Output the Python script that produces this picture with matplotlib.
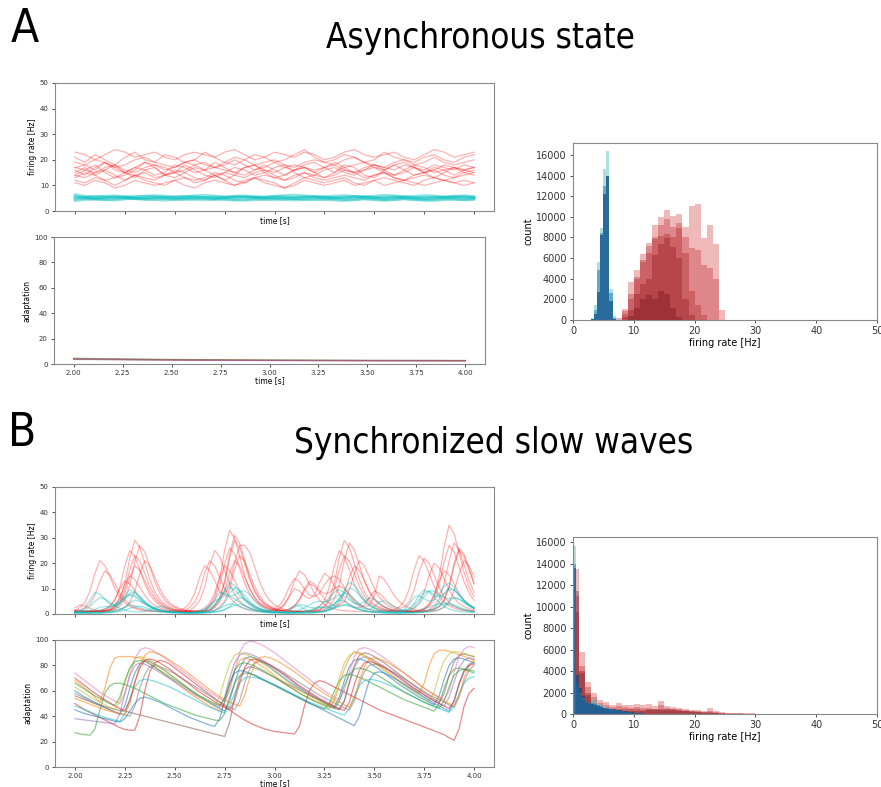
import numpy as np
import matplotlib
matplotlib.use("Agg")
import matplotlib.pyplot as plt
from matplotlib import cm

# ---------------- data ----------------
# asynchronous state: firing rates sampled every 50 ms
t_async = np.linspace(2.0, 4.0, 41)

rate_async_exc = [
    [15,17,14,16,18,15,13,16,17,14,15,18,16,14,13,15,17,16,14,15,17,18,15,13,14,16,17,15,14,16,18,16,14,15,17,15,13,15,17,16,15],
    [21,19,22,20,18,21,23,20,19,22,21,19,20,23,21,19,18,20,22,21,19,20,22,24,21,19,20,22,21,19,20,23,21,20,19,21,22,20,19,21,22],
    [12,11,13,12,10,12,14,12,11,10,12,13,11,12,14,12,10,11,13,12,11,9,11,13,12,11,12,13,11,10,12,13,12,11,10,12,13,12,11,12,11],
    [17,18,16,19,17,15,17,19,18,16,17,19,18,16,17,18,20,18,16,17,19,17,16,18,19,17,15,17,18,19,17,16,18,19,17,16,18,17,16,18,17],
    [14,13,15,16,14,12,14,15,13,14,16,15,13,12,14,15,14,13,15,16,14,12,13,15,14,13,14,16,15,13,14,15,13,12,14,15,16,14,13,14,15],
    [23,22,20,22,24,23,21,22,23,21,20,22,23,22,21,23,24,22,20,21,23,22,21,23,22,20,21,23,24,22,21,22,23,21,20,22,24,23,21,22,23],
    [16,14,17,19,16,15,17,16,14,15,18,17,15,16,19,17,15,14,16,18,16,14,16,17,15,17,19,17,15,16,17,15,14,16,18,17,15,16,17,15,16],
    [11,10,12,11,9,10,12,11,10,11,12,10,9,11,12,11,10,12,13,11,10,9,10,12,11,10,11,12,10,11,12,10,11,12,11,10,11,12,11,10,11],
    [19,18,20,19,17,18,20,21,19,18,17,19,20,18,17,19,21,20,18,19,20,18,17,19,20,19,18,20,21,19,18,17,19,20,18,19,21,19,18,19,20],
    [13,15,14,12,13,15,14,13,12,14,15,13,12,13,15,14,12,11,13,14,13,12,14,15,13,12,13,14,13,12,14,15,13,12,13,14,13,12,13,15,14],
    [17,16,15,17,18,16,15,17,18,17,15,16,18,19,17,16,15,17,18,16,15,17,18,17,16,17,18,16,15,17,18,17,16,18,17,15,16,18,17,16,17],
    [14,16,18,15,13,14,16,19,17,14,13,15,17,16,14,12,14,17,18,15,13,14,16,17,15,13,15,18,17,14,13,16,18,16,14,15,17,16,14,16,17],
]

rate_async_inh = [
    [5.5,5.2,5.0,5.3,5.6,5.4,5.1,5.0,5.3,5.5,5.2,5.0,5.2,5.4,5.6,5.3,5.1,5.2,5.5,5.3,5.0,5.2,5.4,5.6,5.4,5.1,5.0,5.2,5.5,5.4,5.2,5.1,5.3,5.5,5.3,5.1,5.0,5.3,5.6,5.4,5.2],
    [6.5,5.8,5.6,5.9,6.0,5.7,5.5,5.8,6.1,5.9,5.6,5.7,6.0,6.2,5.9,5.6,5.8,6.0,5.7,5.5,5.8,6.1,6.3,6.0,5.7,5.6,5.9,6.1,5.8,5.6,5.9,6.2,6.0,5.7,5.8,6.1,5.9,5.6,5.8,6.0,5.7],
    [4.6,4.8,4.5,4.3,4.6,4.9,4.7,4.4,4.6,4.8,4.5,4.3,4.6,4.8,4.6,4.4,4.2,4.5,4.7,4.5,4.3,4.6,4.8,4.5,4.3,4.6,4.7,4.4,4.5,4.8,4.6,4.3,4.5,4.7,4.4,4.2,4.5,4.7,4.5,4.4,4.6],
    [5.0,5.4,5.8,5.5,5.2,5.4,5.7,5.9,5.6,5.3,5.5,5.8,5.6,5.3,5.1,5.4,5.7,5.5,5.2,5.4,5.8,5.6,5.3,5.5,5.7,5.4,5.2,5.5,5.8,5.6,5.3,5.5,5.7,5.4,5.1,5.4,5.6,5.3,5.5,5.7,5.4],
    [5.8,5.3,4.9,5.1,5.4,5.2,4.8,5.0,5.3,5.1,4.9,5.2,5.5,5.2,4.9,5.1,5.4,5.6,5.2,5.0,5.3,5.1,4.8,5.0,5.3,5.5,5.2,4.9,5.1,5.4,5.2,4.9,5.1,5.3,5.0,4.8,5.1,5.4,5.2,5.0,5.1],
    [4.0,4.4,4.7,4.5,4.2,4.6,4.9,4.7,4.4,4.1,4.5,4.8,4.6,4.3,4.5,4.7,4.4,4.1,4.3,4.6,4.8,4.5,4.2,4.4,4.7,4.5,4.2,4.0,4.3,4.6,4.4,4.1,4.4,4.7,4.5,4.2,4.0,4.4,4.6,4.3,4.5],
]

t_adapt_async = [2.0, 2.5, 3.0, 3.5, 4.0]
adapt_async = [
    [4.5, 3.6, 3.1, 2.9, 2.8],
    [4.2, 3.4, 3.0, 2.8, 2.7],
    [4.0, 3.3, 2.9, 2.7, 2.6],
    [3.8, 3.1, 2.8, 2.6, 2.5],
    [3.6, 3.0, 2.7, 2.5, 2.4],
]

# slow waves: sampled every 25 ms
t_slow = np.linspace(2.0, 4.0, 81)

rate_slow_exc = [
    [1.2,1.2,1.1,1.1,1.2,1.3,1.6,2.9,5.3,10.6,19,25,22.6,17.3,11.8,7.7,5.1,3.4,2.4,1.7,
     1.3,1.1,1.0,1.0,1.0,1.0,1.1,1.5,3.2,6,12.2,22,29,26.2,20,13.6,8.8,5.8,3.8,2.7,
     1.8,1.4,1.2,1.1,1.0,1.0,1.0,1.1,1.3,1.8,2.8,5,9.8,17.5,23,20.8,16,10.9,7.2,4.7,
     3.2,2.3,1.7,1.4,1.2,1.1,1.0,1.0,1.1,1.3,1.8,3.1,5.7,11.4,20.5,27,24.4,18.7,12.7,8.3,5.4],
    [1.0,1.0,1.0,1.1,1.1,1.2,1.3,1.6,2.4,4.2,8.2,14.5,19,17.2,13.2,9.1,6,4.1,2.8,2.1,
     1.5,1.2,1.0,1.0,1.0,1.1,1.3,3.6,6.8,13.8,25,33,29.8,22.8,15.4,10,6.4,4.2,2.9,2.0,
     1.5,1.2,1.1,1.0,1.0,1.0,1.0,1.0,1.1,1.3,1.8,3.2,5.9,11.8,21,28,25.3,19.4,13.2,8.6,
     5.6,3.7,2.6,1.8,1.4,1.2,1.1,1.0,1.1,1.3,1.9,3.7,7.1,14.6,26.5,35,31.6,24.1,16.3,10.5,6.8],
    [1.5,2.6,4.6,9,16,21,19,14.6,10,6.6,4.4,3,2.2,1.6,1.3,1.1,1.0,1.0,1.0,1.0,
     1.0,1.0,1.1,1.4,2.9,5.3,10.6,19,25,22.6,17.3,11.8,7.7,5.1,3.4,2.4,1.7,1.3,1.1,1.0,
     1.2,2.3,3.9,7.4,13,17,15.4,11.9,8.2,5.5,3.7,2.6,2.0,1.5,1.3,1.2,1.1,1.0,1.0,1.0,
     1.0,1.0,1.0,1.1,1.5,2.8,5,9.8,17.5,23,20.8,16,10.9,7.2,4.7,3.2,2.3,1.7,1.4,1.2,1.1],
    [0.8,0.8,0.9,0.9,1.0,1.0,1.1,1.3,1.8,3.1,5.7,11.4,20.5,27,24.4,18.7,12.7,8.3,5.4,3.6,
     2.6,1.8,1.4,1.2,1.0,1.0,1.0,1.1,1.5,2.8,5,9.8,17.5,23,20.8,16,10.9,7.2,4.7,3.2,
     2.3,1.7,1.3,1.1,1.0,1.0,1.0,1.0,1.0,1.1,1.3,1.6,2.4,4.2,8.2,14.5,19,17.2,13.2,9.1,
     6,4.1,2.8,2.1,1.5,1.3,1.1,1.0,1.0,1.0,1.1,1.3,1.7,2.9,5.3,10.6,19,25,22.6,17.3,11.8],
    [1.3,1.2,1.1,1.1,1.0,1.0,1.2,2.1,3.5,6.6,11.5,15,13.6,10.5,7.3,4.9,3.4,2.4,1.8,1.4,
     1.2,1.1,1.0,1.0,1.0,1.0,1.1,1.4,2.6,4.6,9,16,21,19,14.6,10,6.6,4.4,3,2.2,
     1.6,1.3,1.5,2,3.2,5.8,10,13,11.8,9.2,8,8.5,10,11,10,7.8,5.5,3.8,2.8,3.5,
     7,15,13.6,10.5,7.3,4.9,3.4,2.4,1.8,1.5,2.3,3.9,7.4,13,17,15.4,11.9,8.2,5.5,3.7,2.6],
    [1.1,1.1,1.0,1.0,1.0,1.1,1.2,1.6,3.2,6,12.2,22,29,26.2,20,13.6,8.8,5.8,3.8,2.7,
     1.9,1.5,2.4,4.2,8.2,14.5,19,17.2,13.2,9.1,7.5,12,20,27,27,24.4,18.7,12.7,8.3,5.4,
     3.6,2.6,1.8,1.4,1.2,1.0,1.0,1.0,1.1,1.5,3.2,6,12.2,22,29,26.2,20,13.6,8.8,5.8,
     3.8,2.7,1.9,1.5,1.2,1.1,1.0,1.0,1.0,1.1,1.3,1.8,3.2,5.9,11.8,21,28,25.3,19.4,13.2,8.6],
    [2.5,3.5,3.2,2.2,1.5,1.4,2,3.2,5.8,10,13,11.8,9.2,6.4,4.4,3,2.2,1.7,1.4,1.2,
     1.1,1.0,1.0,1.0,1.1,1.4,2.4,4.2,8.2,14.5,19,17.2,13.2,9.1,6,4.1,2.8,2.1,1.5,1.3,
     2.1,3.4,6.2,10.8,14,12.7,9.8,7.5,6.8,8,11.5,14,15,13.6,10.5,7.3,4.9,3.4,2.4,1.8,
     1.4,1.2,1.1,1.0,1.0,1.0,1.1,1.4,2.5,4.4,8.6,15.2,20,18.1,13.9,9.5,6.3,4.2,2.9,2.1,1.6],
    [0.9,0.9,0.9,1.0,1.0,1.0,1.0,1.1,1.3,1.7,2.6,4.6,9,16,21,19,14.6,10,6.6,4.4,
     3,2.2,1.6,1.3,1.1,1.0,1.1,1.6,3.4,6.4,13,23.5,31,28,21.4,14.5,9.4,6.1,4,2.8,
     2,1.5,1.4,1.9,3,5.4,9.2,12,10.9,8.5,6,4.2,3.2,3.5,5,9.5,16,21,19,14.6,
     10,6.6,4.4,3,2.2,1.6,1.3,1.1,1.0,1.0,1.0,1.1,1.3,1.7,2.6,4.6,9,16,21,19,14.6],
    [1.5,1.6,2.3,3.9,7.4,13,17,15.4,11.9,8.2,5.5,3.7,2.6,2,1.5,1.3,1.2,1.1,1.0,1.0,
     1.0,1.0,1.3,2.6,4.6,9,16,21,19,14.6,10,6.6,4.4,3,2.2,1.6,1.3,1.1,1.0,1.0,
     1.0,1.7,3.6,6.8,10,9.1,7.1,6,7.5,12.2,16,14.5,11.2,7.8,5.2,3.6,2.6,2.5,3.5,6.5,
     9,8.2,6.3,4.3,3,2.2,2.7,4.8,9.4,16.8,22,19.9,15.3,10.5,6.9,4.6,3.1,2.3,1.7,1.4,1.2],
    [1.0,1.0,1.0,1.0,1.1,1.1,1.2,1.5,2.8,5,9.8,17.5,23,20.8,16,10.9,7.2,4.7,3.2,2.3,
     1.7,1.3,1.1,1.0,1.0,1.1,1.4,3,5.5,11,19.8,26,23.5,18,12.2,8,5.2,3.5,2.5,1.8,
     1.4,1.2,1.0,1.0,1.0,1.0,1.1,1.2,1.6,2.9,5.3,10.6,19,25,22.6,17.3,11.8,7.7,5.1,3.4,
     2.4,1.7,1.4,1.2,1.0,1.0,1.0,1.0,1.1,1.1,1.2,1.4,1.8,3,5.5,11,19.8,26,23.5,18,12.2],
]

rate_slow_inh = [
    [0.6,0.6,0.5,0.5,0.5,0.6,0.8,1.2,2.1,4.1,7.3,9.5,8.6,6.6,4.6,3.0,2.0,1.4,1.0,0.8,
     0.7,0.6,0.5,0.5,0.5,0.5,0.6,0.8,1.3,2.3,4.5,8,10.5,9.5,7.3,5,3.3,2.2,1.5,1.1,
     0.9,0.7,0.6,0.5,0.5,0.5,0.5,0.5,0.6,0.8,1.1,1.9,3.7,6.5,8.5,7.7,5.9,4.1,2.7,1.9,
     1.3,1.0,0.8,0.7,0.6,0.5,0.5,0.5,0.5,0.6,0.8,1.3,2.3,4.5,8,10.5,9.5,7.3,5,3.3,2.2],
    [0.8,1.0,1.6,2.9,5,6.5,5.9,4.6,3.2,2.2,1.5,1.1,0.9,0.8,1.0,1.6,2.5,3.0,2.6,1.8,
     1.1,0.8,0.6,0.5,0.5,0.6,0.8,1.5,2.7,5.3,9.5,12.5,11.3,8.7,5.9,3.9,2.5,1.7,1.2,0.9,
     0.7,0.6,0.5,0.5,0.5,0.5,0.5,0.5,0.6,0.7,0.9,1.5,2.7,5.3,9.5,12.5,11.3,8.7,5.9,3.9,
     2.5,1.7,1.2,0.9,0.7,0.8,1.2,2.1,4.1,7.3,9.5,8.6,6.6,4.6,3.0,2.0,1.4,1.0,0.8,0.7,0.6],
    [0.5,0.5,0.5,0.5,0.5,0.5,0.6,0.7,0.9,1.4,2.5,4.3,5.5,5,3.9,2.8,1.9,1.4,1.0,0.8,
     0.7,0.6,0.5,0.5,0.5,0.5,0.5,0.6,0.8,1.0,1.6,2.9,5,6.5,5.9,4.6,3.2,2.2,1.5,1.1,
     0.9,0.7,0.8,1.7,3.5,3.2,1.9,1.0,0.8,0.9,1.4,2.5,4.3,5.5,5,3.9,2.8,1.9,1.4,1.0,
     0.8,0.7,0.6,0.5,0.5,0.5,0.5,0.5,0.5,0.6,0.7,0.8,1.0,1.6,2.9,5,6.5,5.9,4.6,3.2,2.2],
    [0.8,1.2,2.5,5.5,8.5,7.8,5.8,4.0,3.5,4.5,6.5,8.2,8.5,7.0,5.2,3.6,2.4,1.6,1.1,0.8,
     0.7,0.6,0.5,0.5,0.6,0.8,1.4,2.8,5.5,8.5,8.0,7.0,7.5,8.8,9.2,7.6,5.4,3.5,2.2,1.4,
     1.0,0.8,0.7,0.6,0.6,0.7,0.9,1.3,1.9,2.5,2.8,3.0,3.8,5.8,8.4,10.2,9.5,7.4,5.2,3.4,
     2.2,1.5,1.1,0.9,0.8,1.0,1.8,3.8,6.6,7.2,6.0,5.0,5.6,8.0,11.0,12.2,10.5,7.8,5.2,3.4,2.2],
    [0.4,0.4,0.4,0.4,0.5,0.5,0.6,0.8,1.2,1.9,2.8,3.5,3.2,2.5,1.9,1.3,1.0,0.8,0.6,0.5,
     0.4,0.4,0.4,0.4,0.4,0.5,0.6,0.9,1.4,2.2,3.2,4.0,3.7,2.9,2.1,1.5,1.0,0.8,0.6,0.5,
     0.4,0.4,0.4,0.4,0.5,0.6,0.9,1.5,2.1,2.6,2.4,2.3,2.6,3.1,3.8,3.4,2.6,1.8,1.2,0.9,
     0.7,0.6,0.5,0.4,0.4,0.4,0.5,0.6,0.9,1.4,2.1,2.8,3.4,4.0,4.4,3.9,3.0,2.2,1.5,1.0,0.8],
    [0.6,0.6,0.6,0.7,0.9,1.3,2.0,2.9,3.8,5.0,6.6,7.4,6.8,5.4,4.0,2.9,2.0,1.4,1.0,0.8,
     0.6,0.6,0.6,0.6,0.7,0.9,1.4,2.3,3.9,6.2,8.8,10.5,9.6,7.5,5.3,3.6,2.4,1.6,1.1,0.8,
     0.7,0.6,0.8,1.4,2.6,3.8,3.4,2.6,2.4,3.0,4.4,6.5,8.6,9.6,8.4,6.3,4.4,3.0,2.0,1.8,
     2.8,4.8,5.2,4.0,2.8,1.9,1.5,1.9,3.4,5.6,8.4,9.0,7.6,6.8,7.8,9.8,9.4,7.4,5.4,3.8,2.6],
    [0.3,0.3,0.3,0.3,0.3,0.3,0.4,0.5,0.7,1.0,1.5,2.2,2.9,3.1,2.6,2.0,1.5,1.1,0.8,0.6,
     0.5,0.4,0.3,0.3,0.3,0.3,0.4,0.5,0.8,1.2,1.8,2.6,3.4,3.8,3.2,2.4,1.7,1.2,0.8,0.6,
     0.5,0.4,0.3,0.3,0.3,0.3,0.3,0.4,0.5,0.7,1.0,1.5,2.2,3.0,3.5,3.1,2.4,1.7,1.2,0.8,
     0.6,0.5,0.4,0.3,0.3,0.3,0.3,0.4,0.5,0.7,1.0,1.5,2.2,3.1,3.8,4.0,3.6,2.8,2.0,1.4,1.0],
    [1.0,1.0,1.1,1.3,1.8,2.6,3.0,2.8,3.0,4.2,6.0,7.8,7.4,6.0,4.4,3.1,2.2,1.5,1.1,0.8,
     0.7,0.6,0.6,0.6,0.8,1.2,2.0,3.4,5.0,6.4,7.2,7.0,6.0,4.6,3.3,2.3,1.6,1.1,0.8,0.7,
     0.6,0.6,0.6,0.7,1.0,1.6,2.4,3.6,4.6,5.0,4.8,5.2,6.4,7.6,7.0,5.6,4.2,3.8,4.8,6.2,
     5.8,4.4,3.0,2.0,1.4,1.1,1.0,1.3,2.2,4.0,6.8,9.2,9.0,7.6,6.4,6.0,6.4,5.8,4.6,3.3,2.3],
]

adapt_slow = [
    [60,57.5,55,53,51,49,47,45,43,41.5, 48,62,74,81,84,
     83,81,78.5,76,73,70,67,64,61,58,55.5,53,50.5,48,46,44, 52,66,78,85,87,
     86,84,81.5,79,76,73,70,67,64.5,62,59.5,57,55,53,51,49,47.5, 55,68,79,84,85,
     84,82,79.5,77,74,71,68,65,62.5,60,57.5,55,53,51,49, 56,69,80,85,86, 85,83.5,82],
    [68,65,62,59,55,51, 62,78,86,87,87,87,86.5,86,
     84,81.5,79,76,73,70,67,64,61,58,55.5,53,50.5,48,46,44, 50,63,76,84,
     86,85,83,80.5,78,75,72,69,66,63.5,61,58.5,56,54,52,50,48,46, 52,65,77,86,91,
     90,88,85.5,83,80,77,74,71,68,65.5,63,60.5,58, 66,80,89,92,92, 91,90,88.5,87,85.5,84],
    [27,26,25.5,25, 30,45,58,64,66,66,
     65,63.5,62,60,58,56,54,52,50,48.5,47,45.5,44,42.5,41,40,39,38,37,36.5, 42,55,66,72,74,
     73.5,72,70,68,66,64,62,60,58,56,54,52,50,48.5,47,45.5, 50,60,68,72,73,
     72,70.5,69,67,65,63,61,59,57,55,53,51.5,50,48.5,47,45.5,44, 50,62,72,77,78, 77,75.5,74],
    [50,47.5,45,43,41,39,37,35,33,31,29.5, 29,29, 40,60,75,82,84,
     83,81,78,75,72,69,66,63,60,57,54,51,48,45,42,39.5,37,35,33,31.5,30,29,28,27.5,27,26.5,26,
     32,48,60,66,68,
     67,65,63,61,59,57,55,53,51,49,47,45,43.5,42,40.5,39,37.5,36,34.5,33,31.5,30,28.5,27,25.5,23,21,
     30,48,58,62],
    [38,37.5,37,36.5,36,35.5,35,34.5,34, 42,58,72,80,82,
     81,79,77,74.5,72,69.5,67,64.5,62,59.5,57,55,53,51,49,47, 55,70,82,88,90,
     89,87.5,85.5,83,80.5,78,75,72,69,66,63,60.5,58,55.5,53,51,49,47,45.5, 52,66,78,85,87,
     86,84,81.5,79,76,73,70,67,64,61.5,59,56.5,54,52,50,48, 55,67,78,84,86, 85],
    [56,54.5,53,51.5,50,49,47.5,46.5,45.5,44.5, 44,43,
     42,41,40,39,38,37,36,35,34,33,32,31,30,29,28,27,26,25,24, 35,55,70,77,79,
     78,76.5,74.5,72.5,70.5,68.5,66.5,64.5,62.5,60.5,58.5,56.5,54.5,52.5,50.5,48.5,46.5,45, 52,67,80,88,90,
     89,87,84.5,82,79,76,73,70,67,64,61,58.5,56,53.5,51, 58,72,83,88,89, 88,87],
    [74,71,68,65,62,59,56.5,54,52,50, 58,73,85,92,94,
     93,91,88.5,86,83,80,77,74,71,68,65,62,59,56.5,54,52, 60,76,90,97,99,
     98.5,97,95,92.5,90,87,84,81,78,75,72,69,66,63,60,57.5,55,53, 60,75,87,93,94,
     93,91,88.5,86,83,80,77,74,71,68,65,62,59.5,57,55,53, 60,75,87,93,95, 94],
    [58,56,54,52,50,48,46.5,45,43.5,42,41,40, 48,62,73,79,80,
     79,77.5,75.5,73.5,71,68.5,66,63.5,61,58.5,56,53.5,51,49,47,45, 52,66,77,82,83,
     82,80.5,78.5,76.5,74,71.5,69,66.5,64,61.5,59,56.5,54.5,52.5,50.5,48.5,46.5,45, 52,65,75,80,81,
     80,78.5,76.5,74.5,72,69.5,67,64.5,62,59.5,57,55,53,51,49,47, 55,67,76,80],
    [63,60.5,58,55.5,53,51,49,47,45, 52,66,78,85,87,
     86,84,81.5,79,76,73,70,67,64,61,58,55.5,53,50.5,48, 55,69,81,88,90,
     89,87.5,85.5,83,80.5,78,75,72,69,66,63.5,61,58.5,56,54,52,50,48, 55,70,82,88,90,
     89,87,84.5,82,79,76,73,70,67,64,61.5,59,56.5,54,52, 59,73,84,89,91, 90.5,89.5,88,86.5],
    [48,46.5,45,43.5,42,40.5,39,38,37,36, 42,54,63,68,69,
     68.5,67.5,66,64.5,63,61,59,57,55,53,51,49,47,45.5,44,42.5, 48,58,66,70,71,
     70.5,69.5,68,66.5,65,63,61,59,57,55,53,51,49.5,48,46.5,45,43.5,42,41, 46,56,64,68,69,
     68.5,67.5,66,64.5,63,61,59,57,55,53,51,49,47.5,46,44.5,43, 48,58,66,70,71],
    [45,43.5,42,41,40,39,38,37,36,35.5, 38,44,50,54,55,
     54,52.5,51,49,47,45,43,41,39,37.5,36,34.5,33,32, 38,52,66,74,76,
     75.5,74,72.5,70.5,68.5,66.5,64.5,62.5,60.5,58.5,56.5,54.5,52.5,50.5,48.5,46.5,44.5,42.5,40.5,38.5,36.5,34.5,32.5,
     40,55,68,74,75,
     74,72,70,67.5,65,62.5,60,57.5,55,52.5,50,48,46,44, 52,66,76,81,82],
    [54,52.5,51,49.5,48,46.5,45,44,43,42,41.5, 50,66,80,88,91,
     90,88.5,86.5,84,81.5,79,76,73,70,67,64,61,58,55.5,53,51, 49.5,48, 56,70,81,86,87,
     86,84.5,82.5,80,77.5,75,72,69,66,63,60.5,58,55.5,53,51,49,47, 54,68,79,85,86,
     85,83.5,81.5,79,76.5,74,71,68,65,62,59.5,57,54.5,52,50,48, 56,70,80,84],
    [66,63.5,61,58.5,56,54,52,50,48.5, 55,68,78,83,84,
     83,81,78.5,76,73.5,71,68.5,66,63.5,61,58.5,56,54,52,50,48.5, 54,66,76,81,82,
     81,79.5,77.5,75.5,73,70.5,68,65.5,63,60.5,58,56,54,52,50.5,49,47.5,46, 52,64,73,77,78,
     77,75.5,73.5,71.5,69,66.5,64,61.5,59,57,55,53,51,49.5,48,46.5, 52,63,72,76,77, 76.5,75.5],
    [70,67,64,61,58,55.5,53,50.5,48,46,44.5, 52,67,78,84,85,
     84,82,79.5,77,74,71,68,65,62,59,56.5,54,51.5,49,47,45, 52,66,78,84,85,
     84,82.5,80.5,78,75.5,73,70,67,64,61.5,59,56.5,54,52,50,48,46,44.5, 51,65,76,82,83,
     82,80.5,78.5,76,73.5,71,68,65,62,59.5,57,54.5,52,50,48,46, 52,65,75,80,81],
]

# histograms of firing rates (counts per bin)
hist_a_inh_edges = [2.5, 3.0, 3.5, 4.0, 4.5, 5.0, 5.5, 6.0, 6.5, 7.0]
hist_a_inh = [
    [0, 200, 1500, 5600, 8900, 14600, 16400, 3000, 350],
    [0, 100, 1000, 4800, 8400, 13000, 14000, 2600, 200],
    [0, 50, 600, 2700, 8200, 12200, 14000, 1800, 100],
]
hist_a_exc_edges = list(range(7, 27))
hist_a_exc = [
    [0, 1100, 3700, 4800, 6400, 7500, 9200, 10000, 10700, 10100, 10300, 9000, 11000, 11200, 7900, 9200, 7400, 1000, 0],
    [0, 600, 2000, 4000, 5600, 7200, 8000, 9200, 9800, 9000, 9400, 8000, 7000, 6800, 5300, 5000, 4000, 0, 0],
    [200, 900, 2500, 4200, 5800, 6500, 7800, 8100, 8300, 8000, 8900, 6500, 2800, 1500, 500, 0, 0, 0, 0],
    [0, 300, 1000, 2500, 3500, 4000, 6300, 7400, 7900, 7100, 6000, 2000, 500, 0, 0, 0, 0, 0, 0],
    [0, 0, 400, 1200, 2000, 2400, 2000, 2800, 2500, 1200, 300, 0, 0, 0, 0, 0, 0, 0, 0],
]

hist_b_inh_edges = [0.5 * k for k in range(25)]
hist_b_inh = [
    [15700, 2600, 2000, 1500, 1200, 1000, 1400, 1300, 900, 800, 700, 600, 500, 400, 350, 300, 250, 200, 150, 120, 100, 80, 50, 30],
    [14000, 3000, 1800, 1300, 1000, 900, 1000, 900, 800, 700, 600, 500, 450, 400, 350, 300, 250, 200, 150, 120, 100, 80, 50, 30],
    [13600, 3600, 2400, 1700, 1200, 1000, 900, 800, 700, 650, 600, 550, 500, 450, 400, 350, 300, 250, 200, 150, 120, 90, 60, 30],
]
hist_b_exc_edges = [0.5] + list(range(1, 34))
hist_b_exc = [
    [13500, 5800, 3000, 1950, 1300, 1100, 800, 1000, 850, 850, 950, 800, 950, 700, 1250, 700, 650, 600, 500, 400, 350, 300, 550, 250, 150, 120, 100, 80, 60, 50, 40, 20, 10],
    [11000, 4500, 2500, 1600, 1000, 800, 650, 700, 650, 600, 650, 550, 600, 500, 800, 550, 500, 450, 400, 300, 250, 200, 300, 150, 100, 80, 60, 50, 40, 30, 20, 10, 0],
    [9500, 3800, 2000, 1300, 800, 600, 500, 500, 450, 450, 450, 400, 450, 450, 500, 500, 450, 400, 300, 250, 200, 150, 150, 100, 60, 40, 30, 20, 10, 0, 0, 0, 0],
    [11500, 4000, 1800, 1000, 600, 400, 300, 300, 250, 250, 300, 300, 350, 350, 400, 400, 350, 300, 250, 200, 150, 100, 80, 50, 30, 20, 10, 0, 0, 0, 0, 0, 0],
]

# ---------------- figure ----------------
W, H = 881, 787
fig = plt.figure(figsize=(W / 100, H / 100), dpi=100)

def px_axes(left, right, top, bottom):
    return fig.add_axes([left / W, 1 - bottom / H, (right - left) / W, (bottom - top) / H])

def style(ax, fs):
    for s in ax.spines.values():
        s.set_color("#888888")
    ax.tick_params(labelsize=fs, colors="#333333", length=2.5, width=0.6, pad=2)

time_ticks = [2.0, 2.25, 2.5, 2.75, 3.0, 3.25, 3.5, 3.75, 4.0]

def rate_axes(ax, exc, inh, t, inh_lw):
    for tr in exc:
        ax.plot(t, tr, color="red", lw=0.9, alpha=0.3)
    for tr in inh:
        ax.plot(t, tr, color="c", lw=inh_lw, alpha=0.4)
    ax.set_xlim(1.9, 4.1)
    ax.set_ylim(0, 50)
    ax.set_xticks(time_ticks)
    style(ax, 5)
    ax.tick_params(labelbottom=False)
    ax.set_xlabel("time [s]", fontsize=5.5, labelpad=1)
    ax.set_ylabel("firing rate [Hz]", fontsize=5.5, labelpad=2)

def adapt_axes(ax, data, t):
    for tr in data:
        ax.plot(t, tr, lw=0.9, alpha=0.55)
    ax.set_xlim(1.9, 4.1)
    ax.set_ylim(0, 100)
    ax.set_xticks(time_ticks)
    style(ax, 5)
    ax.set_xlabel("time [s]", fontsize=5.5, labelpad=0)
    ax.set_ylabel("adaptation", fontsize=5.5, labelpad=2)

def hist_axes(ax, exc_edges, exc, inh_edges, inh, ymax):
    reds = cm.get_cmap("Reds")
    blues = cm.get_cmap("GnBu")
    e = np.array(exc_edges, dtype=float)
    shades = np.linspace(0.75, 1.0, len(exc))
    for counts, s in zip(exc, shades):
        ax.bar(e[:-1], counts, width=np.diff(e), align="edge", color=reds(s), alpha=0.3, lw=0)
    e = np.array(inh_edges, dtype=float)
    shades = np.linspace(0.5, 1.0, len(inh))
    for counts, s in zip(inh, shades):
        ax.bar(e[:-1], counts, width=np.diff(e), align="edge", color=blues(s), alpha=0.6, lw=0)
    ax.set_xlim(0, 50)
    ax.set_ylim(0, ymax)
    ax.set_xticks([0, 10, 20, 30, 40, 50])
    ax.set_yticks(range(0, 16001, 2000))
    style(ax, 7)
    ax.set_xlabel("firing rate [Hz]", fontsize=7, labelpad=1)
    ax.set_ylabel("count", fontsize=7, labelpad=2)

# panel A
ax = px_axes(55, 494, 83, 211)
rate_axes(ax, rate_async_exc, rate_async_inh, t_async, 1.8)
ax = px_axes(54, 485, 237, 364)
adapt_axes(ax, adapt_async, t_adapt_async)
ax = px_axes(573, 877, 143, 320)
hist_axes(ax, hist_a_exc_edges, hist_a_exc, hist_a_inh_edges, hist_a_inh, 17150)

# panel B
ax = px_axes(55, 494, 487, 614)
rate_axes(ax, rate_slow_exc, rate_slow_inh, t_slow, 0.9)
ax = px_axes(55, 494, 640, 767)
adapt_axes(ax, adapt_slow, t_slow)
ax = px_axes(573, 877, 537, 714)
hist_axes(ax, hist_b_exc_edges, hist_b_exc, hist_b_inh_edges, hist_b_inh, 16500)

cond = dict(family="DejaVu Sans", stretch="condensed")
fig.text(25 / W, 1 - 29 / H, "A", fontsize=33, ha="center", va="center", **cond)
fig.text(480 / W, 1 - 38 / H, "Asynchronous state", fontsize=25, ha="center", va="center", **cond)
fig.text(22 / W, 1 - 433 / H, "B", fontsize=33, ha="center", va="center", **cond)
fig.text(494 / W, 1 - 443 / H, "Synchronized slow waves", fontsize=25, ha="center", va="center", **cond)

fig.savefig("out.png", dpi=100)
